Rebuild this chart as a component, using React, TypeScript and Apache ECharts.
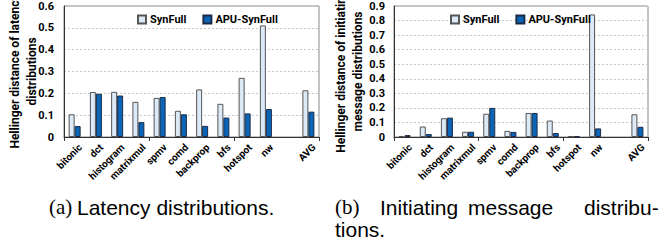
import React, { useEffect, useRef } from "react";
import * as echarts from "echarts";

const categories = ["bitonic", "dct", "histogram", "matrixmul", "spmv", "comd", "backprop", "bfs", "hotspot", "nw", "", "AVG"];
const latencySynFull = [0.104, 0.206, 0.207, 0.161, 0.179, 0.12, 0.218, 0.152, 0.271, 0.511, null, 0.214];
const latencyApu = [0.05, 0.198, 0.19, 0.068, 0.183, 0.104, 0.051, 0.089, 0.108, 0.128, null, 0.116];
const msgSynFull = [0.007, 0.072, 0.129, 0.036, 0.16, 0.042, 0.165, 0.113, 0.005, 0.842, null, 0.156];
const msgApu = [0.013, 0.02, 0.133, 0.036, 0.2, 0.035, 0.165, 0.027, 0.004, 0.059, null, 0.07];
const leftTicks = { min: 0, max: 0.6, interval: 0.1 };
const rightTicks = { min: 0, max: 0.9, interval: 0.1 };

const FONT = "Roboto, Lato, sans-serif";
const lightColor = "#dce9f6";
const blueColor = "#0a65b8";

function yAxis(gridIndex: number, ticks: any, name: string, nameGap: number, margin: number) {
  return {
    type: "value",
    gridIndex,
    min: ticks.min,
    max: ticks.max,
    interval: ticks.interval,
    name,
    nameLocation: "middle",
    nameGap,
    nameRotate: 90,
    nameMoveOverlap: false,
    nameTextStyle: { fontFamily: FONT, fontWeight: 700, fontSize: 12, color: "#000", lineHeight: 17 },
    axisLine: { show: true, lineStyle: { color: "#333", width: 1 } },
    axisTick: { show: false },
    axisLabel: {
      fontFamily: FONT,
      fontWeight: 700,
      fontSize: 11,
      color: "#000",
      margin,
      hideOverlap: false,
      formatter: (v: number) => (v === 0 ? "0" : v.toFixed(1)),
    },
    splitLine: { show: true, lineStyle: { color: "#c8c8c8", type: [2, 2], width: 1 } },
  };
}

function xAxis(gridIndex: number) {
  return {
    type: "category",
    gridIndex,
    data: categories,
    axisLine: { show: true, lineStyle: { color: "#333", width: 1 } },
    axisTick: { show: true, alignWithLabel: false, length: 4, inside: false, lineStyle: { color: "#333" } },
    axisLabel: { show: false },
    splitLine: { show: false },
  };
}

function bars(name: string, data: any[], idx: number, color: string, border: string) {
  return {
    name,
    type: "bar",
    xAxisIndex: idx,
    yAxisIndex: idx,
    data,
    barWidth: 6,
    barGap: "0%",
    itemStyle: { color, borderColor: border, borderWidth: 1 },
  };
}

function labelSeries(idx: number) {
  return {
    type: "custom",
    xAxisIndex: idx,
    yAxisIndex: idx,
    silent: true,
    clip: false,
    z: 10,
    data: categories.map((c, i) => ({ name: c, value: [i, 0] })),
    renderItem: (params: any, api: any) => {
      const p = api.coord([api.value(0), 0]);
      return {
        type: "text",
        x: p[0] + 2,
        y: p[1] + 5,
        rotation: Math.PI / 4,
        style: {
          text: categories[params.dataIndex],
          fontFamily: FONT,
          fontWeight: 700,
          fontSize: 10,
          fill: "#000",
          align: "right",
          verticalAlign: "top",
        },
      };
    },
  };
}

export default function App() {
  const ref = useRef<HTMLDivElement>(null);
  useEffect(() => {
    const chart = echarts.init(ref.current!, null, { renderer: "svg" });
    const legendCommon = {
      data: ["SynFull", "APU-SynFull"],
      top: 9,
      itemWidth: 8,
      itemHeight: 8,
      itemGap: 16,
      icon: "rect",
      textStyle: { fontFamily: FONT, fontWeight: 700, fontSize: 11, color: "#000", padding: [0, 0, 0, -1] },
      selectedMode: false,
    };
    const word = (text: string, x: number, y: number, serif = false) => ({
      type: "text",
      x,
      y,
      style: {
        text,
        fontFamily: serif ? "Liberation Serif" : "Liberation Sans",
        fontSize: 21,
        fill: "#000",
        textVerticalAlign: "middle",
      },
    });
    chart.setOption({
      animation: false,
      backgroundColor: "#fff",
      grid: [
        { left: 64, top: 6, width: 255, height: 131, outerBoundsMode: "none", containLabel: false, show: true, borderColor: "#888", borderWidth: 1, backgroundColor: "transparent" },
        { left: 394, top: 6, width: 254, height: 131, outerBoundsMode: "none", containLabel: false, show: true, borderColor: "#888", borderWidth: 1, backgroundColor: "transparent" },
      ],
      legend: [
        { ...legendCommon, left: 132 },
        { ...legendCommon, left: 445 },
      ],
      xAxis: [xAxis(0), xAxis(1)],
      yAxis: [
        yAxis(0, leftTicks, "Hellinger distance of latency\ndistributions", 24, 10),
        yAxis(1, rightTicks, "Hellinger distance of initiating\nmessage distributions", 28, 9),
      ],
      series: [
        bars("SynFull", latencySynFull, 0, lightColor, "#555"),
        bars("APU-SynFull", latencyApu, 0, blueColor, "#1b2b45"),
        bars("SynFull", msgSynFull, 1, lightColor, "#555"),
        bars("APU-SynFull", msgApu, 1, blueColor, "#1b2b45"),
        labelSeries(0),
        labelSeries(1),
      ],
      graphic: [
        word("(a)", 49, 207, true),
        word("Latency distributions.", 77, 207),
        word("(b)", 335, 207, true),
        word("Initiating", 380, 207),
        word("message", 468, 207),
        word("distribu-", 584, 207),
        word("tions.", 335, 229),
      ],
    });
    return () => chart.dispose();
  }, []);
  return <div ref={ref} style={{ position: "fixed", left: 0, top: 0, width: 662, height: 240 }} />;
}
